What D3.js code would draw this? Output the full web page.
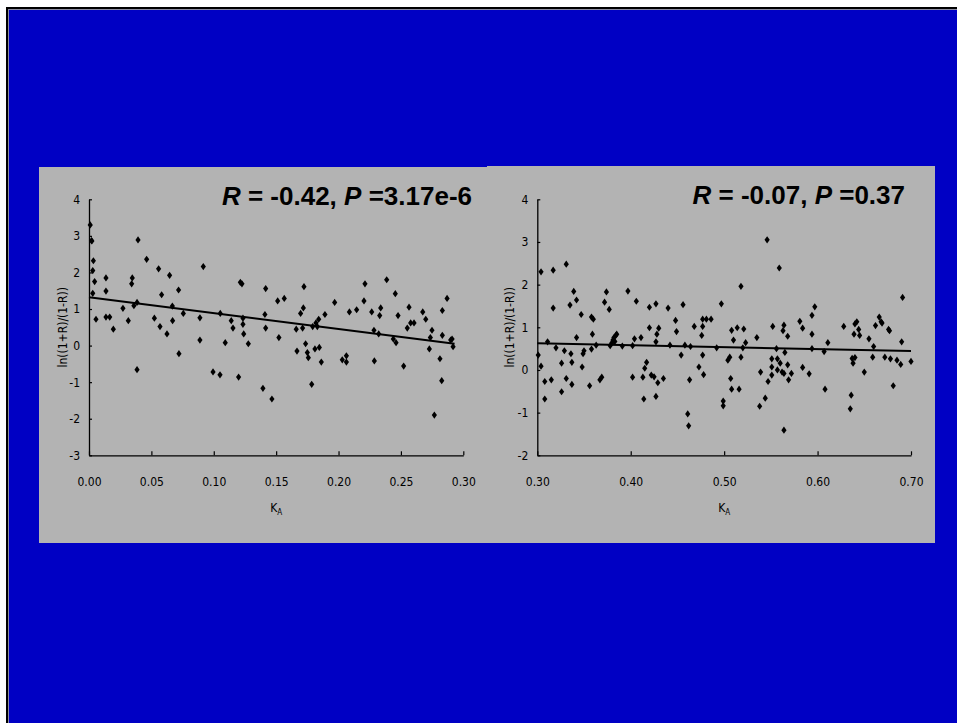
<!DOCTYPE html>
<html><head><meta charset="utf-8">
<script src="https://cdn.jsdelivr.net/npm/d3@7"></script>
<style>
html,body{margin:0;padding:0;background:#fff;}
svg{display:block;}
</style></head><body>
<svg id="chart" width="957" height="723"></svg>
<script>
// ---------- data ----------
const leftX = [0.001,0.002,0.0023,0.0035,0.003,0.0045,0.003,0.0056,0.0136,0.0136,0.0136,0.0166,0.0195,0.0272,0.0315,0.0342,0.0347,0.036,0.0385,0.0393,0.0385,0.0462,0.0524,0.0558,0.0569,0.0582,0.0625,0.0646,0.0668,0.067,0.0718,0.0721,0.0756,0.0889,0.0889,0.0916,0.0994,0.1052,0.105,0.1092,0.114,0.1154,0.1199,0.1213,0.1226,0.1234,0.1234,0.124,0.1277,0.1394,0.141,0.1416,0.1416,0.1466,0.1512,0.1522,0.1565,0.1661,0.1667,0.1696,0.1712,0.1718,0.1723,0.1736,0.175,0.1758,0.1785,0.1793,0.1811,0.1819,0.183,0.1841,0.1846,0.1862,0.1891,0.1969,0.203,0.2063,0.2063,0.2087,0.2145,0.2204,0.2212,0.2266,0.2284,0.2287,0.2322,0.233,0.2338,0.2386,0.2439,0.2455,0.2461,0.2477,0.2522,0.2551,0.2565,0.2578,0.2605,0.2675,0.2699,0.2728,0.2736,0.2749,0.2768,0.2813,0.2827,0.2832,0.2832,0.287,0.2899,0.291,0.2918];
const leftY = [3.30,2.87,2.86,2.32,2.05,1.75,1.43,0.72,1.85,1.49,0.78,0.78,0.45,1.02,0.68,1.69,1.85,1.09,1.18,2.89,-0.66,2.36,0.75,2.10,0.52,1.39,0.32,1.92,1.08,0.68,1.52,-0.22,0.88,0.76,0.15,2.16,-0.72,0.88,-0.80,0.08,0.68,0.48,-0.86,1.73,1.69,0.75,0.58,0.32,0.05,-1.17,0.85,1.56,0.48,-1.46,1.22,0.22,1.29,0.45,-0.15,0.88,0.48,1.03,1.61,0.05,-0.19,-0.33,-1.06,0.52,-0.09,0.62,0.52,0.72,-0.05,-0.45,0.85,1.18,-0.39,-0.28,-0.45,0.92,0.98,1.22,1.69,0.92,0.42,-0.42,0.32,0.82,1.03,1.80,0.18,1.42,0.08,0.82,-0.56,0.48,1.05,0.62,0.62,0.92,0.72,-0.09,0.22,0.42,-1.90,-0.36,-0.96,0.96,0.28,1.29,0.15,0.18,-0.03];
const rightX = [0.301,0.304,0.304,0.308,0.308,0.311,0.315,0.317,0.317,0.320,0.326,0.326,0.329,0.331,0.331,0.335,0.336,0.337,0.337,0.339,0.342,0.342,0.347,0.348,0.349,0.350,0.356,0.358,0.358,0.360,0.359,0.363,0.367,0.369,0.372,0.374,0.377,0.378,0.380,0.381,0.382,0.384,0.385,0.383,0.391,0.397,0.402,0.402,0.404,0.406,0.411,0.413,0.414,0.415,0.417,0.420,0.420,0.422,0.425,0.427,0.427,0.427,0.428,0.429,0.430,0.435,0.440,0.442,0.448,0.449,0.454,0.456,0.458,0.461,0.462,0.463,0.464,0.468,0.473,0.476,0.477,0.477,0.477,0.478,0.481,0.486,0.492,0.497,0.499,0.499,0.504,0.506,0.507,0.508,0.508,0.510,0.514,0.516,0.518,0.518,0.520,0.521,0.523,0.535,0.538,0.539,0.544,0.546,0.547,0.551,0.551,0.551,0.552,0.556,0.557,0.557,0.559,0.560,0.562,0.563,0.564,0.564,0.564,0.565,0.568,0.568,0.569,0.572,0.581,0.584,0.584,0.591,0.594,0.594,0.594,0.597,0.607,0.608,0.611,0.628,0.635,0.636,0.637,0.638,0.639,0.640,0.640,0.642,0.644,0.645,0.650,0.655,0.659,0.660,0.662,0.666,0.668,0.669,0.672,0.676,0.677,0.678,0.681,0.685,0.689,0.690,0.691,0.700];
const rightY = [0.35,2.30,0.09,-0.27,-0.68,0.66,-0.23,2.34,1.45,0.52,0.16,-0.51,0.45,-0.20,2.48,1.52,0.38,0.18,-0.34,1.84,1.64,0.76,1.30,0.07,0.38,0.45,-0.37,0.49,1.24,1.19,0.84,0.58,-0.23,-0.17,1.59,1.83,1.42,0.57,0.64,0.70,0.76,0.81,0.84,0.67,0.56,1.85,0.57,-0.17,0.73,1.61,0.76,-0.17,-0.68,0.04,0.18,1.47,0.99,-0.12,-0.16,-0.62,1.55,0.66,0.84,-0.30,0.98,-0.20,1.45,0.58,1.16,0.90,0.35,1.53,0.58,-1.03,-1.31,-0.23,0.55,1.02,0.07,0.81,1.19,1.02,0.35,-0.11,1.19,1.19,0.52,1.55,-0.73,-0.84,0.23,0.30,-0.20,-0.45,0.93,0.70,0.99,-0.45,1.96,0.30,0.52,0.96,0.64,0.76,-0.85,-0.05,-0.66,3.05,-0.27,0.26,0.07,-0.12,1.02,0.50,0.26,0.00,2.39,0.16,-0.05,0.92,1.05,-1.41,-0.08,0.41,0.79,0.12,-0.23,-0.08,1.14,0.98,0.06,-0.09,1.28,0.84,0.50,1.48,0.43,-0.45,0.64,1.02,-0.91,-0.59,0.27,0.16,0.84,0.29,1.08,1.13,0.95,0.81,-0.05,0.73,0.30,0.55,1.04,1.24,1.13,1.10,0.30,0.95,0.92,0.26,-0.37,0.23,0.13,0.66,1.70,0.20];
const leftFitX = [0.0, 0.293];
const leftFitY = [1.32, 0.05];
const rightFitX = [0.30, 0.70];
const rightFitY = [0.625, 0.445];
const leftXTicks = [0.00,0.05,0.10,0.15,0.20,0.25,0.30];
const leftYTicks = [-3,-2,-1,0,1,2,3,4];
const rightXTicks = [0.30,0.40,0.50,0.60,0.70];
const rightYTicks = [-2,-1,0,1,2,3,4];
const leftStat = {R:"-0.42", P:"3.17e-6"};
const rightStat = {R:"-0.07", P:"0.37"};
const yLabel = "ln((1+R)/(1-R))";

// ---------- drawing ----------
const svg = d3.select("#chart");
svg.append("rect").attr("x",6).attr("y",7).attr("width",951).attr("height",716).attr("fill","#000");
svg.append("rect").attr("x",8).attr("y",9).attr("width",949).attr("height",714).attr("fill","#8c8ca0");
svg.append("rect").attr("x",9).attr("y",10).attr("width",948).attr("height",713).attr("fill","#0000c4");

const narrow = '"Liberation Sans Narrow","DejaVu Sans Condensed","Arial Narrow",sans-serif';
const diamond = "M0,-3.6L2.6,0L0,3.6L-2.6,0Z";
const fmtX = d => d.toFixed(2);
const fmtY = d => String(d);

function panel(cfg){
  const g = svg.append("g");
  g.append("rect").attr("x",cfg.px).attr("y",cfg.py).attr("width",cfg.pw).attr("height",cfg.ph).attr("fill","#b3b3b3");
  const x = d3.scaleLinear().domain(cfg.xDom).range(cfg.xRange);
  const y = d3.scaleLinear().domain(cfg.yDom).range(cfg.yRange);
  const xAxis = d3.axisBottom(x).tickValues(cfg.xTicks).tickFormat(fmtX).tickSizeInner(-4).tickSizeOuter(0).tickPadding(22);
  const yAxis = d3.axisLeft(y).tickValues(cfg.yTicks).tickFormat(fmtY).tickSizeInner(-3).tickSizeOuter(0).tickPadding(9);
  const gx = g.append("g").attr("transform",`translate(0,${cfg.yRange[0]})`).call(xAxis);
  const gy = g.append("g").attr("transform",`translate(${cfg.xRange[0]},0)`).call(yAxis);
  [gx,gy].forEach(a=>{
    a.select(".domain").attr("stroke","#000").attr("stroke-width",1.3);
    a.selectAll(".tick line").attr("stroke","#000").attr("stroke-width",1.2);
    a.selectAll(".tick text").attr("fill","#000").style("font-size","12px").style("font-family",narrow);
  });
  g.append("line")
    .attr("x1",x(cfg.fitX[0])).attr("y1",y(cfg.fitY[0]))
    .attr("x2",x(cfg.fitX[1])).attr("y2",y(cfg.fitY[1]))
    .attr("stroke","#000").attr("stroke-width",2);
  g.selectAll("path.pt").data(cfg.xs.map((d,i)=>[d,cfg.ys[i]])).join("path")
    .attr("class","pt").attr("d",diamond)
    .attr("transform",d=>`translate(${x(d[0])},${y(d[1])})`).attr("fill","#000");
  g.append("text").attr("transform",`translate(${cfg.yLabX},${(cfg.yRange[0]+cfg.yRange[1])/2}) rotate(-90)`)
    .attr("text-anchor","middle").style("font-family",narrow).style("font-size","12px").text(yLabel);
  const xl = g.append("text").attr("x",(cfg.xRange[0]+cfg.xRange[1])/2).attr("y",cfg.yRange[0]+57)
    .attr("text-anchor","middle").style("font-family",narrow).style("font-size","12px");
  xl.append("tspan").text("K");
  xl.append("tspan").attr("dy",3).style("font-size","8px").text("A");
  const t = g.append("text").attr("x",cfg.statX).attr("y",cfg.py+38).attr("text-anchor","end")
    .style("font-family","'Liberation Sans',Arial,sans-serif").style("font-size","26px").style("font-weight","bold");
  t.append("tspan").style("font-style","italic").text("R");
  t.append("tspan").text(" = " + cfg.stat.R + ", ");
  t.append("tspan").style("font-style","italic").text("P");
  t.append("tspan").text(" =" + cfg.stat.P);
}

panel({px:39,py:167,pw:448,ph:376,xDom:[0,0.3],xRange:[89,463.3],yDom:[-3,4],yRange:[455.3,199.3],
  xTicks:leftXTicks,yTicks:leftYTicks,xs:leftX,ys:leftY,fitX:leftFitX,fitY:leftFitY,yLabX:67,statX:472,stat:leftStat});
panel({px:487,py:166,pw:448,ph:377,xDom:[0.3,0.7],xRange:[537.3,911],yDom:[-2,4],yRange:[455.3,199.3],
  xTicks:rightXTicks,yTicks:rightYTicks,xs:rightX,ys:rightY,fitX:rightFitX,fitY:rightFitY,yLabX:514,statX:905,stat:rightStat});
</script>
</body></html>
